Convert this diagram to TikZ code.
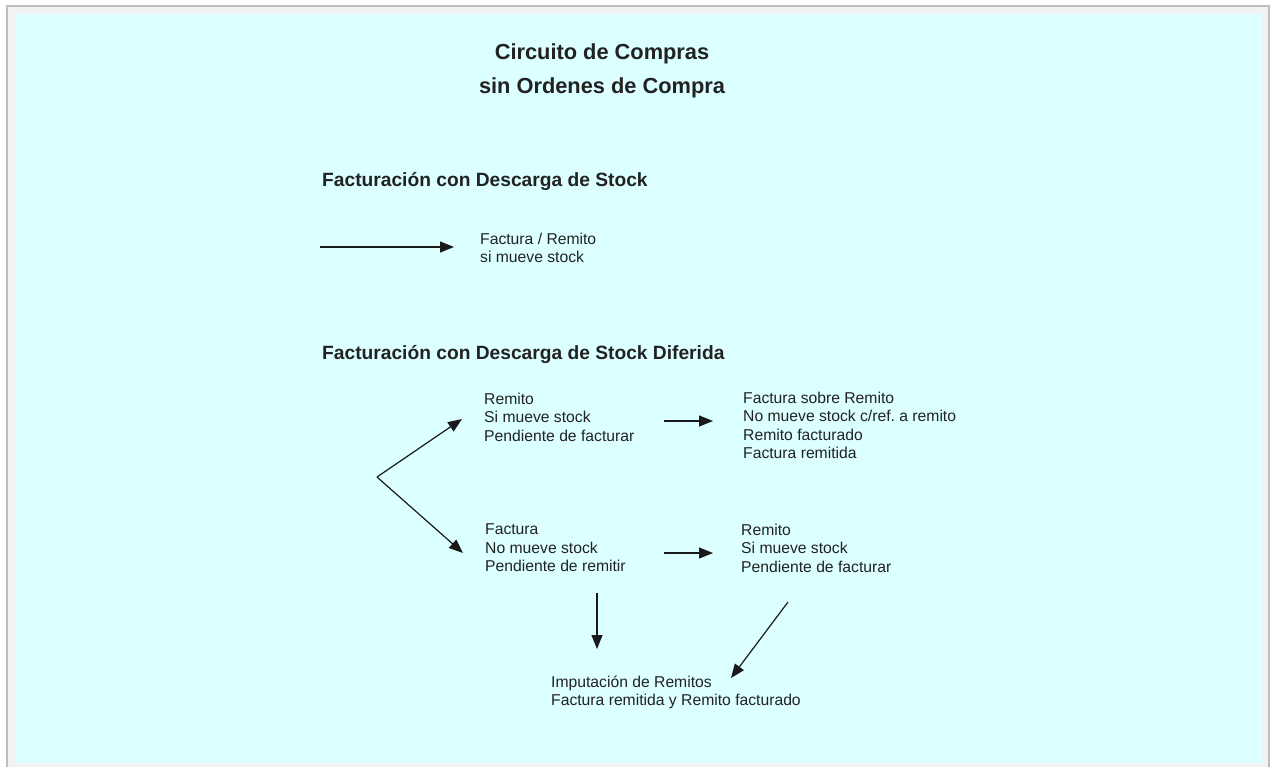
\documentclass[tikz,border=0pt]{standalone}
\usepackage{fontspec}
\setmainfont{Liberation Sans}
\usetikzlibrary{arrows.meta}

\definecolor{paper}{HTML}{DCFFFF}
\definecolor{frame}{HTML}{F2F2F2}
\definecolor{frameline}{HTML}{BDBDBD}
\definecolor{ink}{HTML}{222222}

\begin{document}
\begin{tikzpicture}[x=1pt,y=-1pt,
  txt/.style={anchor=north west,inner sep=0pt,align=left,text=ink,font=\fontsize{15.7}{18.5}\selectfont},
  head/.style={anchor=north west,inner sep=0pt,text=ink,font=\fontsize{19.2}{23}\selectfont\bfseries},
  ttl/.style={anchor=north,inner sep=0pt,align=center,text=ink,font=\fontsize{21.8}{34}\selectfont\bfseries},
  ar/.style={-{Triangle[length=14pt,width=11pt]},line width=1.2pt,black!90}]

\useasboundingbox (0,0) rectangle (1274,766);
\fill[white] (0,0) rectangle (1274,766);
\filldraw[fill=frame,draw=frameline,line width=1.5pt] (7,6) rectangle (1269,790);
\fill[paper] (15,14) rectangle (1262,763);

\node[ttl] (title) at (602,43.5) {Circuito de Compras\\sin Ordenes de Compra};
\node[head] (inmed) at (322,172.3) {Facturación con Descarga de Stock};
\node[head] (difer) at (322,345.3) {Facturación con Descarga de Stock Diferida};

\node[txt] (facrem) at (480,232.7) {Factura / Remito\\si mueve stock};
\node[txt] (rem) at (484,392.7) {Remito\\Si mueve stock\\Pendiente de facturar};
\node[txt] (facsob) at (743,391.7) {Factura sobre Remito\\No mueve stock c/ref.\ a remito\\Remito facturado\\Factura remitida};
\node[txt] (fac) at (485,523.7) {Factura\\No mueve stock\\Pendiente de remitir};
\node[txt] (rem2) at (741,523.7) {Remito\\Si mueve stock\\Pendiente de facturar};
\node[txt] (imput) at (551,675.7) {Imputación de Remitos\\Factura remitida y Remito facturado};

\coordinate (inicio) at (320,247);
\coordinate (a-facrem) at (454,247);
\coordinate (fork) at (377,477);
\coordinate (a-rem) at (462,419);
\coordinate (a-fac) at (463,553);
\coordinate (rem-out) at (664,421);
\coordinate (a-facsob) at (713,421);
\coordinate (fac-out) at (664,553);
\coordinate (a-rem2) at (713,553);
\coordinate (fac-down) at (597,593);
\coordinate (a-imput) at (597,649);
\coordinate (rem2-down) at (788,602);
\coordinate (b-imput) at (731,678);

\draw[ar] (inicio) -- (a-facrem);
\draw[ar] (fork) -- (a-rem);
\draw[ar] (fork) -- (a-fac);
\draw[ar] (rem-out) -- (a-facsob);
\draw[ar] (fac-out) -- (a-rem2);
\draw[ar] (fac-down) -- (a-imput);
\draw[ar] (rem2-down) -- (b-imput);
\end{tikzpicture}
\end{document}
